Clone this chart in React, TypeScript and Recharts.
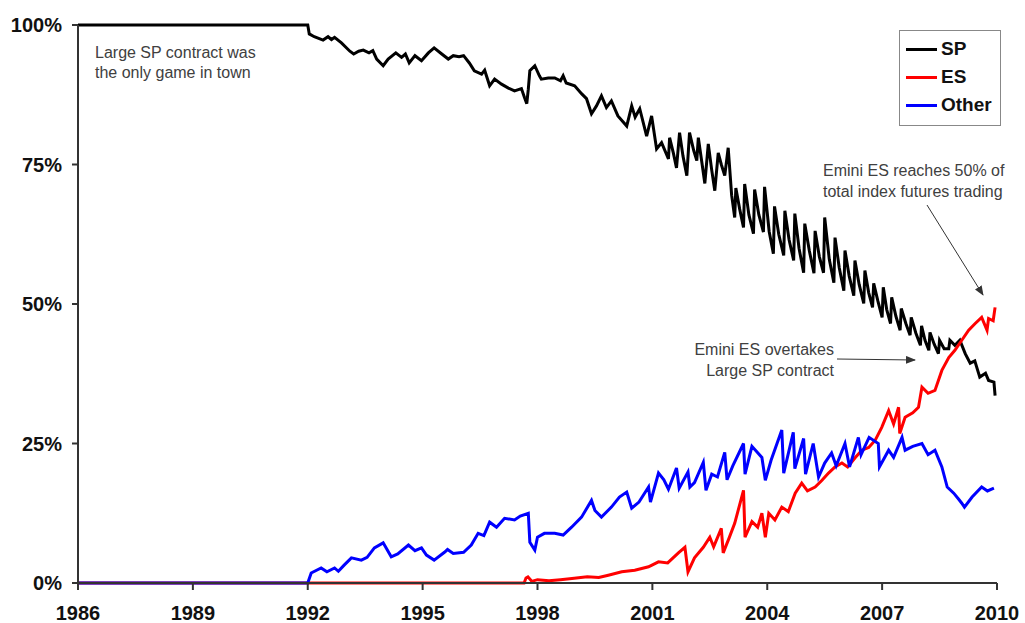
import { CartesianGrid, Customized, Legend, Line, LineChart, XAxis, YAxis } from "recharts";

// share of total index futures volume, %
const spYears = [
  1986, 1992.0, 1992.04, 1992.17, 1992.4, 1992.53, 1992.62, 1992.7, 1992.88, 1993.1, 1993.2, 1993.33, 1993.45,
  1993.6, 1993.7, 1993.8, 1993.97, 1994.1, 1994.3, 1994.45, 1994.55, 1994.65, 1994.8, 1994.97, 1995.15, 1995.3,
  1995.5, 1995.67, 1995.8, 1995.95, 1996.07, 1996.22, 1996.35, 1996.54, 1996.62, 1996.75, 1996.88, 1997.06,
  1997.24, 1997.4, 1997.58, 1997.66, 1997.72, 1997.76, 1997.8, 1997.93, 1998.05, 1998.1, 1998.28, 1998.45,
  1998.6, 1998.67, 1998.75, 1998.97, 1999.15, 1999.28, 1999.41, 1999.54, 1999.67, 1999.8, 1999.93, 2000.1,
  2000.33, 2000.46, 2000.55, 2000.67, 2000.85, 2000.98, 2001.11, 2001.24, 2001.42, 2001.45, 2001.55, 2001.63,
  2001.71, 2001.8, 2001.9, 2001.97, 2002.08, 2002.16, 2002.2, 2002.3, 2002.37, 2002.46, 2002.55, 2002.63,
  2002.72, 2002.8, 2002.89, 2002.98, 2003.07, 2003.15, 2003.18, 2003.28, 2003.38, 2003.41, 2003.52, 2003.64,
  2003.67, 2003.78, 2003.9, 2003.93, 2004.05, 2004.16, 2004.19, 2004.3, 2004.43, 2004.46, 2004.57, 2004.69,
  2004.72, 2004.83, 2004.95, 2004.98, 2005.1, 2005.22, 2005.25, 2005.36, 2005.47, 2005.5, 2005.62, 2005.74,
  2005.77, 2005.88, 2006.0, 2006.03, 2006.14, 2006.26, 2006.29, 2006.4, 2006.52, 2006.55, 2006.65, 2006.75,
  2006.78, 2006.89, 2007.0, 2007.03, 2007.12, 2007.22, 2007.25, 2007.36, 2007.47, 2007.5, 2007.62, 2007.73,
  2007.76, 2007.88, 2008.0, 2008.03, 2008.12, 2008.22, 2008.25, 2008.36, 2008.47, 2008.5, 2008.62, 2008.74,
  2008.77, 2008.9, 2009.03, 2009.17, 2009.3, 2009.42, 2009.55, 2009.7, 2009.78, 2009.92, 2009.95,
];
const spShare = [
  100, 100, 98.4, 97.9, 97.3, 97.9, 97.4, 97.8, 96.8, 95.3, 94.8, 95.3, 95.5,
  95.0, 95.4, 93.9, 92.7, 93.9, 95.0, 94.2, 94.8, 93.2, 94.5, 93.6, 95.0, 95.9,
  94.8, 93.9, 94.5, 94.3, 94.5, 93.2, 91.8, 91.2, 91.9, 89.1, 90.3, 89.4,
  88.7, 88.2, 88.6, 87.0, 85.9, 88.5, 91.8, 92.7, 90.9, 90.3, 90.5, 90.5,
  90.0, 90.9, 89.6, 89.1, 87.7, 86.8, 84.1, 85.5, 87.3, 85.2, 86.4, 83.7,
  81.9, 85.5, 83.5, 85.0, 80.1, 83.7, 77.8, 78.9, 76.0, 79.8, 77.0, 74.4,
  80.7, 76.5, 73.0, 80.7, 77.5, 75.7, 79.8, 75.0, 71.6, 78.7, 74.0, 70.3,
  77.1, 75.0, 73.0, 78.0, 69.5, 65.5, 70.8, 67.0, 63.7, 71.5, 66.0, 62.6,
  70.5, 66.0, 62.9, 71.0, 63.0, 59.0, 67.5, 62.5, 58.7, 66.7, 61.5, 57.8,
  66.2, 60.0, 55.6, 64.4, 59.5, 55.5, 63.1, 58.5, 55.6, 65.5, 58.0, 53.8,
  61.9, 56.5, 52.4, 59.6, 55.0, 51.5, 57.8, 53.5, 50.1, 56.0, 52.0, 49.4,
  53.7, 50.5, 47.6, 53.0, 49.0, 46.5, 51.2, 47.8, 45.3, 49.2, 46.5, 44.4,
  47.6, 44.8, 42.6, 46.1, 43.5, 41.7, 44.9, 42.8, 41.1, 43.5, 42.0, 42.0,
  43.5, 42.6, 43.5, 41.1, 39.4, 39.8, 36.9, 37.6, 36.3, 36.0, 33.6,
];

const esYears = [
  1986, 1997.65, 1997.7, 1997.75, 1997.85, 1998.0, 1998.3, 1998.6, 1998.9, 1999.3, 1999.6, 1999.85, 2000.2,
  2000.54, 2000.9, 2001.16, 2001.4, 2001.68, 2001.85, 2001.93, 2002.1, 2002.33, 2002.5, 2002.6, 2002.8,
  2002.85, 2003.0, 2003.15, 2003.38, 2003.42, 2003.6, 2003.75, 2003.86, 2003.95, 2004.04, 2004.2, 2004.38,
  2004.55, 2004.73, 2004.9, 2005.05, 2005.25, 2005.43, 2005.6, 2005.77, 2005.95, 2006.1, 2006.3, 2006.47,
  2006.65, 2006.82, 2006.99, 2007.17, 2007.3, 2007.43, 2007.46, 2007.6, 2007.8, 2007.95, 2008.04, 2008.2,
  2008.38, 2008.56, 2008.74, 2008.9, 2009.08, 2009.26, 2009.43, 2009.6, 2009.74, 2009.78, 2009.9, 2009.95,
];
const esShare = [
  0, 0, 0.9, 1.1, 0.3, 0.6, 0.4, 0.6, 0.8, 1.1, 1.0, 1.4, 2.0,
  2.3, 2.9, 3.8, 3.6, 5.4, 6.4, 2.0, 4.5, 6.4, 8.2, 6.5, 9.8,
  5.4, 8.0, 10.7, 16.6, 8.2, 11.0, 10.0, 12.5, 8.2, 12.5, 11.3, 13.6,
  12.8, 16.1, 17.9, 16.5, 17.2, 18.4, 19.7, 20.8, 21.5, 20.8, 22.5, 23.8,
  24.3, 25.6, 27.9, 30.9, 28.5, 31.5, 26.8, 29.7, 30.5, 31.5, 35.1, 34.0,
  34.5, 38.1, 40.4, 41.7, 43.5, 45.3, 46.5, 47.6, 45.3, 47.4, 47.0, 49.4,
];

const otherYears = [
  1986, 1992.0, 1992.09, 1992.35, 1992.5, 1992.7, 1992.8, 1992.95, 1993.14, 1993.4, 1993.55, 1993.74, 1993.97,
  1994.18, 1994.35, 1994.63, 1994.8, 1994.97, 1995.1, 1995.3, 1995.57, 1995.65, 1995.8, 1996.07, 1996.27,
  1996.45, 1996.6, 1996.75, 1996.93, 1997.14, 1997.4, 1997.55, 1997.76, 1997.8, 1997.93, 1998.0, 1998.18,
  1998.45, 1998.67, 1998.89, 1999.15, 1999.41, 1999.5, 1999.67, 1999.93, 2000.14, 2000.33, 2000.46, 2000.65,
  2000.9, 2000.95, 2001.16, 2001.3, 2001.42, 2001.63, 2001.7, 2001.93, 2001.98, 2002.1, 2002.33, 2002.4,
  2002.55, 2002.7, 2002.89, 2002.95, 2003.1, 2003.38, 2003.42, 2003.6, 2003.86, 2003.95, 2004.1, 2004.38,
  2004.43, 2004.68, 2004.72, 2004.95, 2005.0, 2005.2, 2005.34, 2005.5, 2005.68, 2005.8, 2006.03, 2006.15,
  2006.38, 2006.45, 2006.66, 2006.9, 2006.93, 2007.17, 2007.3, 2007.52, 2007.6, 2007.8, 2008.04, 2008.2,
  2008.38, 2008.56, 2008.7, 2008.87, 2009.0, 2009.08, 2009.15, 2009.35, 2009.6, 2009.75, 2009.92,
];
const otherShare = [
  0, 0, 1.8, 2.7, 2.0, 2.7, 2.1, 3.2, 4.5, 4.1, 4.6, 6.3, 7.2,
  4.7, 5.2, 6.8, 5.8, 6.3, 5.0, 4.1, 5.5, 6.0, 5.3, 5.5, 6.8,
  8.9, 8.5, 10.9, 10.0, 11.6, 11.3, 12.0, 12.5, 7.3, 5.9, 8.2, 8.9,
  8.9, 8.6, 10.0, 11.8, 14.8, 13.0, 11.8, 13.6, 15.4, 16.3, 13.4, 14.5,
  17.2, 14.5, 19.7, 18.5, 16.8, 20.6, 17.0, 19.9, 17.2, 18.0, 21.6, 16.6,
  19.5, 19.0, 23.4, 18.5, 21.0, 25.0, 19.5, 24.5, 22.5, 18.4, 22.0, 27.4,
  19.7, 27.0, 20.5, 25.9, 19.5, 25.0, 19.0, 21.5, 23.3, 21.0, 25.0, 20.8,
  26.1, 23.0, 26.1, 25.0, 20.8, 23.8, 22.5, 26.1, 23.8, 24.5, 25.0, 23.0,
  23.8, 20.8, 17.2, 16.1, 15.0, 14.3, 13.6, 15.4, 17.2, 16.5, 17.0,
];

const seriesNames = ["SP", "ES", "Other"];
const xTicks = [1986, 1989, 1992, 1995, 1998, 2001, 2004, 2007, 2010];
const yTicks = [0, 25, 50, 75, 100];

const toPoints = (years: number[], vals: number[]) => years.map((t, i) => ({ t, v: vals[i] }));
const spData = toPoints(spYears, spShare);
const esData = toPoints(esYears, esShare);
const otherData = toPoints(otherYears, otherShare);

const tickFont = { fontFamily: "'Liberation Sans', Arial, sans-serif", fontWeight: 700, fontSize: 20, fill: "#111" };
const noteFont = { fontFamily: "'Liberation Sans', Arial, sans-serif", fontSize: 16, fill: "#404040" };

function Notes() {
  return (
    <g>
      <defs>
        <marker id="arr" markerWidth="10" markerHeight="8" refX="9" refY="4" orient="auto" markerUnits="userSpaceOnUse">
          <path d="M0,0 L10,4 L0,8 Z" fill="#333" />
        </marker>
      </defs>
      <text x={95} y={58} style={noteFont}>Large SP contract was</text>
      <text x={95} y={78} style={noteFont}>the only game in town</text>
      <text x={823} y={176} style={noteFont}>Emini ES reaches 50% of</text>
      <text x={823} y={197} style={noteFont}>total index futures trading</text>
      <line x1={927} y1={205} x2={983} y2={295} stroke="#333" strokeWidth={1} markerEnd="url(#arr)" />
      <text x={834} y={355} textAnchor="end" style={noteFont}>Emini ES overtakes</text>
      <text x={834} y={376} textAnchor="end" style={noteFont}>Large SP contract</text>
      <line x1={837} y1={359} x2={915} y2={360} stroke="#333" strokeWidth={1} markerEnd="url(#arr)" />
    </g>
  );
}

function LegendBox({ payload }: any) {
  const items = [...(payload || [])].sort(
    (a: any, b: any) => seriesNames.indexOf(a.value) - seriesNames.indexOf(b.value)
  );
  return (
    <div style={{ border: "1.5px solid #888", background: "#fff", padding: "4px 0 6px 6px", width: 94 }}>
      {items.map((p: any) => (
        <div key={p.value} style={{ display: "flex", alignItems: "center", height: 28 }}>
          <span style={{ display: "inline-block", width: 31, height: 3, background: p.color, marginRight: 4 }} />
          <span style={{ ...tickFont, fill: undefined, color: "#111", fontSize: 19, lineHeight: "20px" }}>{p.value}</span>
        </div>
      ))}
    </div>
  );
}

export default function App() {
  return (
    <div style={{ position: "absolute", left: 0, top: 0, background: "#fff" }}>
      <LineChart width={1025} height={623} margin={{ top: 25, right: 28, left: 0, bottom: 0 }}>
        <CartesianGrid stroke="none" />
        <XAxis
          dataKey="t"
          type="number"
          domain={[1986, 2010]}
          ticks={xTicks}
          allowDataOverflow
          height={40}
          tick={tickFont}
          tickSize={7}
          tickMargin={16}
          axisLine={{ stroke: "#333", strokeWidth: 2 }}
          tickLine={{ stroke: "#333", strokeWidth: 2 }}
        />
        <YAxis
          type="number"
          domain={[0, 100]}
          ticks={yTicks}
          width={78}
          tick={tickFont}
          tickSize={6}
          tickMargin={10}
          tickFormatter={(v: number) => `${v}%`}
          axisLine={{ stroke: "#333", strokeWidth: 2 }}
          tickLine={{ stroke: "#333", strokeWidth: 2 }}
        />
        <Line data={spData} dataKey="v" name="SP" type="linear" stroke="#000" strokeWidth={3} dot={false} isAnimationActive={false} />
        <Line data={esData} dataKey="v" name="ES" type="linear" stroke="#ff0000" strokeWidth={3} dot={false} isAnimationActive={false} />
        <Line data={otherData} dataKey="v" name="Other" type="linear" stroke="#0000ff" strokeWidth={3} dot={false} isAnimationActive={false} />
        <Legend
          layout="vertical"
          align="center"
          verticalAlign="middle"
          content={LegendBox}
          wrapperStyle={{ left: 899, top: 30, width: 101, height: 87 }}
        />
        <Customized component={Notes} />
      </LineChart>
    </div>
  );
}
